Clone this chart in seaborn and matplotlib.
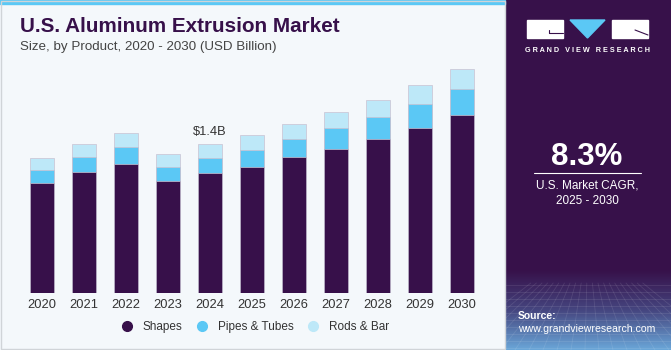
import numpy as np
import pandas as pd
import matplotlib.pyplot as plt
from matplotlib.patches import Rectangle, Polygon
from matplotlib.colors import LinearSegmentedColormap
import seaborn as sns

# data (USD billion)
years = ['2020', '2021', '2022', '2023', '2024', '2025', '2026', '2027', '2028', '2029', '2030']
shapes = [1.033, 1.142, 1.215, 1.057, 1.127, 1.191, 1.277, 1.359, 1.450, 1.556, 1.672]
pipes_tubes = [0.125, 0.141, 0.157, 0.132, 0.147, 0.160, 0.169, 0.195, 0.210, 0.226, 0.249]
rods_bar = [0.116, 0.117, 0.135, 0.122, 0.126, 0.137, 0.141, 0.147, 0.160, 0.172, 0.188]
series = ['Shapes', 'Pipes & Tubes', 'Rods & Bar']
colors = ['#37104A', '#5BC8F5', '#BDE8F8']

df = pd.DataFrame({'year': years, 'shapes': shapes, 'pipes': pipes_tubes, 'rods': rods_bar})
df['lvl2'] = df['shapes'] + df['pipes']
df['total'] = df['lvl2'] + df['rods']

sns.set_style('white')
plt.rcParams['font.family'] = ['Liberation Sans', 'DejaVu Sans']

W, H = 671, 350
fig = plt.figure(figsize=(W / 100, H / 100), dpi=100)
fig.patch.set_facecolor('#F4F8FB')

# top blue strip and light border
fig.patches.append(Rectangle((0, 1 - 4 / H), 505 / W, 4 / H, transform=fig.transFigure,
                             color='#5BC8F5', zorder=0))
fig.patches.append(Rectangle((1 / W, 1 / H), 504 / W, 1 - 2 / H, transform=fig.transFigure,
                             fill=False, ec='#D0D4D8', lw=1, zorder=0))

# stacked bars: totals drawn first, then partial sums on top
ax = fig.add_axes([21 / W, 57 / H, 462 / W, 233 / H])
ax.set_facecolor('none')
for col, c in zip(['total', 'lvl2', 'shapes'], colors[::-1]):
    sns.barplot(data=df, x='year', y=col, color=c, width=0.58, ax=ax,
                edgecolor='#C9C2D2', linewidth=0.5, saturation=1)
ax.set_ylim(0, 2.194)
ax.set_xlim(-0.5, 10.5)
ax.set_xlabel('')
ax.set_ylabel('')
ax.set_yticks([])
ax.tick_params(axis='x', length=0, pad=4, labelsize=9.3, labelcolor='#333333')
sns.despine(ax=ax, left=True, bottom=True)

i24 = years.index('2024')
ax.text(i24, df['total'][i24] + 0.06, '$1.4B', ha='center', va='bottom',
        fontsize=9.3, color='#333333')

# legend
handles = [plt.Line2D([], [], marker='o', ls='', color=c, markersize=7) for c in colors]
fig.legend(handles, series, loc='center', bbox_to_anchor=(252 / W, 1 - 327 / H), ncol=3,
           frameon=False, fontsize=8.5, handletextpad=0.3, columnspacing=0.7,
           labelcolor='#333333')

# titles
fig.text(20 / W, 1 - 27 / H, 'U.S. Aluminum Extrusion Market', fontsize=14.9,
         fontweight='bold', color='#37104A', va='center')
fig.text(20 / W, 1 - 47 / H, 'Size, by Product, 2020 - 2030 (USD Billion)', fontsize=9.6,
         color='#444444', va='center')

# right panel
pan = fig.add_axes([505 / W, 0, 166 / W, 1])
pan.set_xlim(0, 166)
pan.set_ylim(350, 0)
pan.axis('off')
pan.add_patch(Rectangle((0, 0), 166, 350, color='#37114A', zorder=0))
grad = np.linspace(0, 1, 100)[:, None]
cm = LinearSegmentedColormap.from_list('g', ['#37114A', '#45457F', '#6AA6D8'])
pan.imshow(grad, extent=(0, 166, 350, 270), cmap=cm, aspect='auto', zorder=1)
for yy in np.arange(285, 350, 7):
    pan.plot([0, 166], [yy, yy], color='white', alpha=0.1, lw=0.6, zorder=2)
for xx in np.arange(-60, 230, 14):
    pan.plot([83 + (xx - 83) * 0.4, xx], [283, 350], color='white', alpha=0.1, lw=0.6, zorder=2)

# logo
pan.add_patch(Rectangle((22, 20), 36, 18, color='white', zorder=3))
pan.add_patch(Polygon([(65, 20), (100, 20), (82.5, 38)], color='#5BC8F5', zorder=3))
pan.add_patch(Rectangle((107, 20), 36, 18, color='white', zorder=3))
pan.plot([44, 58], [33, 33], color='#37114A', lw=0.8, zorder=4)
pan.plot([44, 44], [30, 33], color='#37114A', lw=0.8, zorder=4)
pan.plot([130, 143], [30, 35], color='#37114A', lw=0.8, zorder=4)
pan.text(82.5, 51, 'G R A N D   V I E W   R E S E A R C H', ha='center', va='center',
         fontsize=5.2, fontweight='bold', color='white', zorder=4)

pan.text(82, 157, '8.3%', ha='center', va='center', fontsize=22.5, fontweight='bold',
         color='white', zorder=4)
pan.plot([29, 136], [173, 173], color='white', lw=0.8, zorder=4)
pan.text(82, 186, 'U.S. Market CAGR,', ha='center', va='center', fontsize=8.5,
         color='white', zorder=4)
pan.text(82, 201, '2025 - 2030', ha='center', va='center', fontsize=8.5,
         color='white', zorder=4)
pan.text(13, 316, 'Source:', ha='left', va='center', fontsize=7.5, fontweight='bold',
         color='white', zorder=4)
pan.text(13, 329, 'www.grandviewresearch.com', ha='left', va='center', fontsize=7.6,
         color='white', zorder=4)

fig.savefig('out.png', dpi=100, facecolor=fig.get_facecolor())
